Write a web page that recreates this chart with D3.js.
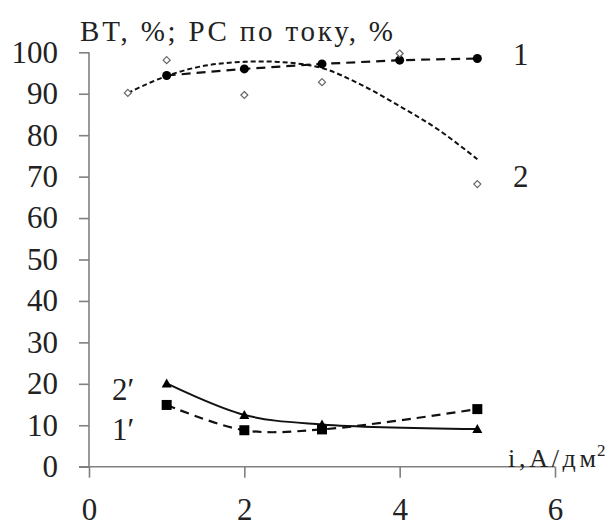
<!DOCTYPE html>
<html>
<head>
<meta charset="utf-8">
<style>
  body { margin: 0; background: #fff; }
  .axis path, .axis line { stroke: #808080; stroke-width: 1.6px; }
</style>
</head>
<body>
<svg width="611" height="530"></svg>
<script src="https://cdn.jsdelivr.net/npm/d3@7/dist/d3.min.js"></script>
<script>
// current density, A/dm2
var xs = [1, 2, 3, 4, 5];
// curve 1: filled circles
var bt1 = [94.4, 96.0, 97.2, 98.1, 98.5];
// curve 2: hollow diamonds (scatter) + its trend
var xs2 = [0.5, 1, 2, 3, 4, 5];
var pc2 = [90.2, 98.1, 89.7, 92.8, 99.7, 68.2];
var trendX = [0.5, 1, 1.5, 2, 2.5, 3, 3.5, 4, 4.5, 5];
var trend2 = [90.2, 94.3, 96.8, 97.7, 97.6, 96.2, 92.2, 87.0, 81.3, 74.2];
// curves 1' and 2'
var xsLow = [1, 2, 3, 5];
var sq1p = [14.9, 8.8, 9.0, 13.9];
var tri2p = [20.1, 12.5, 10.2, 9.1];

var yTicks = d3.range(0, 101, 10);
var xTicks = [0, 2, 4, 6];

var serif = "Liberation Serif";
var svg = d3.select("svg").style("font-family", serif);
var x = d3.scaleLinear().domain([0, 6]).range([89, 555]);
var y = d3.scaleLinear().domain([0, 100]).range([466.7, 52.3]);

var ya = svg.append("g").attr("class", "axis")
    .attr("transform", "translate(" + x(0) + ",0)")
    .call(d3.axisLeft(y).tickValues(yTicks).tickFormat(d3.format("d"))
        .tickSize(10).tickSizeOuter(0).tickPadding(21));
ya.select(".domain").attr("d", "M0," + y(100) + "V" + y(0));

var xa = svg.append("g").attr("class", "axis")
    .attr("transform", "translate(0," + y(0) + ")")
    .call(d3.axisBottom(x).tickValues(xTicks).tickFormat(d3.format("d"))
        .tickSize(11).tickSizeOuter(0).tickPadding(20));
xa.select(".domain").attr("d", "M" + (x(0) - 10) + ",0H" + x(6));

svg.selectAll(".axis").attr("font-family", serif).attr("font-size", null);
svg.selectAll(".axis text")
    .attr("font-family", serif)
    .style("font-family", serif).style("font-size", "31px").style("fill", "#222");

// trend line for curve 2
svg.append("path")
    .datum(trendX.map(function(v, i) { return [v, trend2[i]]; }))
    .attr("fill", "none").attr("stroke", "#111").attr("stroke-width", 2)
    .attr("stroke-dasharray", "5,3")
    .attr("d", d3.line().x(function(d) { return x(d[0]); }).y(function(d) { return y(d[1]); })
        .curve(d3.curveCatmullRom));

// curve 1
svg.append("path")
    .datum(xs.map(function(v, i) { return [v, bt1[i]]; }))
    .attr("fill", "none").attr("stroke", "#111").attr("stroke-width", 2.2)
    .attr("stroke-dasharray", "9,6")
    .attr("d", d3.line().x(function(d) { return x(d[0]); }).y(function(d) { return y(d[1]); }));

svg.selectAll(".c1").data(xs).enter().append("circle")
    .attr("cx", function(d) { return x(d); })
    .attr("cy", function(d, i) { return y(bt1[i]); })
    .attr("r", 4.5).attr("fill", "#000");

// diamonds
svg.selectAll(".d2").data(xs2).enter().append("path")
    .attr("transform", function(d, i) { return "translate(" + x(d) + "," + y(pc2[i]) + ")"; })
    .attr("d", "M0,-3.5L3.5,0L0,3.5L-3.5,0Z")
    .attr("fill", "#fff").attr("stroke", "#666").attr("stroke-width", 1.2);

// curve 1'
svg.append("path")
    .datum(xsLow.map(function(v, i) { return [v, sq1p[i]]; }))
    .attr("fill", "none").attr("stroke", "#111").attr("stroke-width", 2.2)
    .attr("stroke-dasharray", "9,6")
    .attr("d", d3.line().x(function(d) { return x(d[0]); }).y(function(d) { return y(d[1]); })
        .curve(d3.curveCatmullRom));
svg.selectAll(".s1").data(xsLow).enter().append("rect")
    .attr("x", function(d) { return x(d) - 5; })
    .attr("y", function(d, i) { return y(sq1p[i]) - 5; })
    .attr("width", 10).attr("height", 10).attr("fill", "#000");

// curve 2'
svg.append("path")
    .datum(xsLow.map(function(v, i) { return [v, tri2p[i]]; }))
    .attr("fill", "none").attr("stroke", "#111").attr("stroke-width", 2)
    .attr("d", d3.line().x(function(d) { return x(d[0]); }).y(function(d) { return y(d[1]); })
        .curve(d3.curveCatmullRom));
svg.selectAll(".t2").data(xsLow).enter().append("path")
    .attr("transform", function(d, i) { return "translate(" + x(d) + "," + y(tri2p[i]) + ")"; })
    .attr("d", "M0,-5L5,4L-5,4Z").attr("fill", "#000");

// labels
function label(tx, ty, size, str) {
    return svg.append("text").attr("x", tx).attr("y", ty)
        .attr("font-family", serif)
        .style("font-family", serif).style("font-size", size + "px").style("fill", "#222")
        .text(str);
}
label(80, 41, 29, "BT, %; PC по току, %").attr("textLength", 313).attr("lengthAdjust", "spacing");
label(508, 467, 26, "i,A/дм").attr("textLength", 88).attr("lengthAdjust", "spacing");
label(597, 456, 17, "2");
label(513, 65, 31, "1");
label(513, 187, 31, "2");
label(112, 400, 31, "2′");
label(112, 440, 31, "1′");
</script>
</body>
</html>
